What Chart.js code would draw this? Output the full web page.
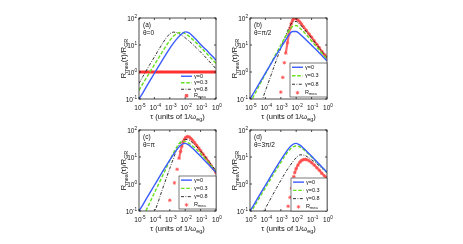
<!DOCTYPE html>
<html>
<head>
<meta charset="utf-8">
<script src="https://cdn.jsdelivr.net/npm/chart.js@4"></script>
<style>
  body { margin: 0; background: #fff; width: 463px; height: 244px; overflow: hidden; position: relative; }
  canvas { position: absolute; }
</style>
</head>
<body>
<canvas id="ca" width="135" height="125" style="left:95px;top:0px"></canvas>
<canvas id="cb" width="135" height="125" style="left:206px;top:0px"></canvas>
<canvas id="cc" width="135" height="125" style="left:95px;top:112px"></canvas>
<canvas id="cd" width="135" height="125" style="left:206px;top:112px"></canvas>
<script>
// tau grid (quarter decades)
const tau = [1e-5, 1.78e-5, 3.16e-5, 5.62e-5, 1e-4, 1.78e-4, 3.16e-4, 5.62e-4, 1e-3, 1.78e-3,
  3.16e-3, 5.62e-3, 1e-2, 1.78e-2, 3.16e-2, 5.62e-2, 0.1, 0.178, 0.316, 0.562, 1];

const xTicks = [1e-5, 1e-4, 1e-3, 1e-2, 1e-1, 1];
const xTickExp = ["-5", "-4", "-3", "-2", "-1", "0"];
const yTicks = [0.1, 1, 10, 100];
const yTickExp = ["-1", "0", "1", "2"];
const legendLabels = ["γ=0", "γ=0.3", "γ=0.8"];
const panelTags = ["(a)", "(b)", "(c)", "(d)"];
const thetaLabels = ["θ=0", "θ=π/2", "θ=π", "θ=3π/2"];

// (a) theta = 0
const aG0 = [0.1, 0.17, 0.3, 0.52, 0.9, 1.55, 2.65, 4.5, 7.5, 12, 18, 25, 30.5, 28, 21, 15, 10.5, 7.6, 5.5, 3.9, 2.8];
const aG03 = [0.21, 0.37, 0.63, 1.1, 1.86, 3.16, 5.4, 9.1, 14.8, 21.4, 27.5, 29.5, 26.3, 20.9, 15.8, 11.5, 8.3, 5.9, 4.2, 2.95, 2.1];
const aG08 = [0.38, 0.68, 1.2, 2.1, 3.6, 6.3, 10.7, 17.8, 26, 30, 28, 23.5, 18.5, 14, 10.5, 7.6, 5.5, 3.9, 2.7, 1.9, 1.3];
const aMea = [1, 1, 1, 1, 1, 1, 1, 1, 1, 1, 1, 1, 1, 1, 1, 1, 1, 1, 1, 1, 1];

// (b) theta = pi/2
const bG0 = [0.1, 0.174, 0.3, 0.52, 0.91, 1.58, 2.75, 4.7, 7.9, 13.2, 22.4, 31.6, 31.6, 25, 18.6, 13.5, 9.8, 7.1, 5.1, 3.6, 2.6];
const bG03 = [0.071, 0.132, 0.245, 0.457, 0.85, 1.58, 2.95, 5.5, 10, 18.2, 31.6, 47.9, 52.5, 41.7, 30.2, 20.9, 14.1, 9.5, 6.5, 4.4, 2.95];
const bG08 = [0.005, 0.0126, 0.0316, 0.079, 0.2, 0.5, 1.26, 3.16, 7.6, 17.8, 39.8, 69, 74, 57.5, 39.8, 26.9, 17.8, 11.7, 7.8, 5.1, 3.4];
const bMeaTauSparse = [1e-3, 1.35e-3, 1.7e-3];
const bMeaSparse = [0.18, 0.63, 2.2];
const bMeaTau = [2.1e-3, 2.7e-3, 3.3e-3, 4e-3, 4.8e-3, 5.8e-3, 7e-3, 8.5e-3, 1e-2, 1.3e-2, 1.7e-2, 2.2e-2,
  3e-2, 4.5e-2, 7e-2, 0.1, 0.15, 0.22, 0.32, 0.46, 0.68, 1];
const bMea = [5, 12, 24, 42, 62, 82, 95, 97, 93, 84, 72, 60, 47, 35, 25, 19.5, 14, 10.5, 7.8, 5.8, 4.4, 3.5];

// (c) theta = pi
const cG0 = [0.1, 0.17, 0.3, 0.52, 0.9, 1.55, 2.7, 4.6, 7.7, 12.8, 20.5, 28.5, 32, 27.5, 20.5, 14.8, 10.6, 7.6, 5.4, 3.8, 2.7];
const cG03 = [0.03, 0.059, 0.117, 0.234, 0.47, 0.93, 1.86, 3.7, 7.4, 14.5, 26, 37, 38, 32, 25, 18.5, 13.2, 9.3, 6.4, 4.3, 2.9];
const cG08 = [0.0016, 0.0045, 0.012, 0.032, 0.085, 0.22, 0.59, 1.5, 3.8, 9.3, 21.4, 36, 45, 42, 33, 24, 16.6, 11.2, 7.4, 4.8, 3.1];
const cMeaTauSparse = [1e-3, 2e-3, 3e-3];
const cMeaSparse = [0.25, 1.1, 3.5];
const cMeaTau = [4e-3, 5e-3, 6e-3, 7.5e-3, 9e-3, 1.1e-2, 1.4e-2, 1.8e-2, 2.3e-2, 3e-2, 4e-2, 5.5e-2, 7.5e-2,
  0.1, 0.15, 0.22, 0.32, 0.46, 0.68, 1];
const cMea = [9, 16, 25, 36, 46, 53, 57, 55, 49, 42, 34, 27, 21.5, 17, 12.5, 9.2, 6.8, 5, 3.6, 2.6];

// (d) theta = 3pi/2
const dG0 = [0.1, 0.17, 0.3, 0.52, 0.9, 1.55, 2.7, 4.6, 7.7, 12.8, 20.5, 28.5, 32, 27.5, 20.5, 14.8, 10.6, 7.6, 5.4, 3.8, 2.7];
const dG03 = [0.079, 0.138, 0.24, 0.42, 0.72, 1.26, 2.2, 3.7, 6.3, 10.5, 16.6, 22.9, 25.7, 23.4, 18.6, 13.8, 10, 7.2, 5.2, 3.7, 2.6];
const dG08 = [0.0115, 0.021, 0.038, 0.069, 0.126, 0.23, 0.42, 0.76, 1.35, 2.4, 4.0, 6.3, 9.5, 12, 11.7, 10, 7.9, 6.2, 4.7, 3.5, 2.5];
const dMeaTauSparse = [3e-3, 4e-3, 5e-3, 6e-3, 7e-3];
const dMeaSparse = [0.15, 0.32, 0.7, 1.2, 1.9];
const dMeaTau = [8e-3, 1e-2, 1.3e-2, 1.7e-2, 2.2e-2, 3e-2, 4e-2, 5e-2, 7e-2, 0.1, 0.15, 0.22, 0.32, 0.46, 0.68, 1];
const dMea = [2.6, 3.7, 5.0, 6.4, 7.4, 8.0, 8.1, 7.9, 7.2, 6.2, 5.0, 4.0, 3.2, 2.5, 2.0, 1.7];

const BLUE = "#3a5cff";
const GREEN = "#66e01f";
const BLACK = "#1a1a1a";
const RED = "#ff4d4d";
const FONT = "'Liberation Sans', Arial, sans-serif";

Chart.defaults.font.family = FONT;

const pts = (xs, ys) => xs.map((x, i) => ({ x: x, y: ys[i] }));

// text with sub/superscripts: parts = [[text, mode]] mode: 0 normal, 1 sub, 2 sup
function richText(ctx, parts, x, y, size, align) {
  const small = size * 0.72;
  const fontFor = (m) => (m ? small : size) + "px " + FONT;
  let w = 0;
  parts.forEach(([t, m]) => { ctx.font = fontFor(m); w += ctx.measureText(t).width; });
  let cx = align === "center" ? x - w / 2 : align === "right" ? x - w : x;
  parts.forEach(([t, m]) => {
    ctx.font = fontFor(m);
    const dy = m === 1 ? size * 0.3 : m === 2 ? -size * 0.42 : 0;
    ctx.fillText(t, cx, y + dy);
    cx += ctx.measureText(t).width;
  });
}

const legendStyles = [
  { color: BLUE, width: 1.4, dash: [] },
  { color: GREEN, width: 1.4, dash: [3.5, 1.8] },
  { color: BLACK, width: 0.9, dash: [3, 1.5, 0.8, 1.5] },
];

const decor = {
  id: "decor",
  afterDatasetsDraw(chart, args, opts) {
    const { ctx, chartArea: a } = chart;
    const xs = chart.scales.x, ys = chart.scales.y;
    ctx.save();
    // box + inward ticks
    ctx.strokeStyle = "#222";
    ctx.lineWidth = 0.8;
    ctx.setLineDash([]);
    ctx.strokeRect(a.left, a.top, a.right - a.left, a.bottom - a.top);
    ctx.beginPath();
    xTicks.forEach((v) => {
      const px = xs.getPixelForValue(v);
      ctx.moveTo(px, a.bottom); ctx.lineTo(px, a.bottom - 2);
      ctx.moveTo(px, a.top); ctx.lineTo(px, a.top + 2);
    });
    yTicks.forEach((v) => {
      const py = ys.getPixelForValue(v);
      ctx.moveTo(a.left, py); ctx.lineTo(a.left + 2, py);
      ctx.moveTo(a.right, py); ctx.lineTo(a.right - 2, py);
    });
    ctx.stroke();

    // tick labels (10 with superscript exponent)
    ctx.fillStyle = "#111";
    ctx.textBaseline = "alphabetic";
    xTicks.forEach((v, i) => {
      richText(ctx, [["10", 0], [xTickExp[i], 2]], xs.getPixelForValue(v) + 1, a.bottom + 10.5, 6.5, "center");
    });
    yTicks.forEach((v, i) => {
      richText(ctx, [["10", 0], [yTickExp[i], 2]], a.left - 2, ys.getPixelForValue(v) + 2.5, 6.5, "right");
    });

    // panel tag
    ctx.font = "6.5px " + FONT;
    ctx.fillText(opts.tag, a.left + 4, a.top + 9);
    ctx.fillText(opts.theta, a.left + 4, a.top + 17);

    // legend
    const L = opts.legend;
    const bx = a.left + L.x, by = a.top + L.y;
    if (L.border) {
      ctx.fillStyle = "#fff";
      ctx.fillRect(bx, by, L.w, L.h);
      ctx.strokeStyle = "#222";
      ctx.lineWidth = 0.6;
      ctx.strokeRect(bx, by, L.w, L.h);
    }
    const step = L.h / 4;
    legendLabels.concat(["R"]).forEach((lab, i) => {
      const yy = by + step * (i + 0.5);
      if (i < 3) {
        const s = legendStyles[i];
        ctx.strokeStyle = s.color;
        ctx.lineWidth = s.width;
        ctx.setLineDash(s.dash);
        ctx.beginPath();
        ctx.moveTo(bx + 2, yy);
        ctx.lineTo(bx + 13, yy);
        ctx.stroke();
        ctx.setLineDash([]);
      } else {
        ctx.strokeStyle = RED;
        ctx.fillStyle = RED;
        ctx.lineWidth = 0.8;
        Chart.helpers.drawPoint(ctx, { pointStyle: L.marker, radius: 1.8, rotation: 0, borderWidth: 0.8 }, bx + 7.5, yy);
      }
      ctx.fillStyle = "#111";
      ctx.textBaseline = "middle";
      if (i < 3) {
        ctx.font = "5.5px " + FONT;
        ctx.fillText(lab, bx + 15, yy);
      } else {
        richText(ctx, [["R", 0], ["mea", 1]], bx + 15, yy - 0.5, 5.5, "left");
      }
    });

    // axis titles
    ctx.fillStyle = "#111";
    ctx.textBaseline = "alphabetic";
    richText(ctx, [["τ (units of 1/ω", 0], ["eg", 1], [")", 0]],
      (a.left + a.right) / 2, a.bottom + 19.5, 7.5, "center");
    ctx.save();
    ctx.translate(a.left - 13.5, (a.top + a.bottom) / 2);
    ctx.rotate(-Math.PI / 2);
    richText(ctx, [["R", 0], ["mea", 1], ["(τ)/R", 0], ["GR", 1]], 0, 0, 7.5, "center");
    ctx.restore();
    ctx.restore();
  },
};

function lineSet(data, color, width, dash) {
  return {
    data: data, showLine: true, borderColor: color, borderWidth: width, borderDash: dash,
    pointRadius: 0, cubicInterpolationMode: "monotone", fill: false,
  };
}

function makePanel(id, idx, g0, g03, g08, meaSets, legend) {
  const datasets = [
    lineSet(pts(tau, g0), BLUE, 1.4, []),
    lineSet(pts(tau, g03), GREEN, 1.4, [3.5, 1.8]),
    lineSet(pts(tau, g08), BLACK, 0.9, [3, 1.5, 0.8, 1.5]),
  ].concat(meaSets);

  new Chart(document.getElementById(id), {
    type: "scatter",
    data: { datasets: datasets },
    options: {
      responsive: false,
      animation: false,
      layout: { padding: { top: 18, right: 14, left: 0, bottom: 0 } },
      plugins: {
        legend: { display: false },
        tooltip: { enabled: false },
        decor: { tag: panelTags[idx], theta: thetaLabels[idx], legend: legend },
      },
      scales: {
        x: {
          type: "logarithmic", min: 1e-5, max: 1,
          afterFit: (s) => { s.height = 26; },
          ticks: { display: false },
          grid: { display: false },
          border: { display: false },
        },
        y: {
          type: "logarithmic", min: 0.1, max: 100,
          afterFit: (s) => { s.width = 44; },
          ticks: { display: false },
          grid: { display: false },
          border: { display: false },
        },
      },
    },
    plugins: [decor],
  });
}

function meaSparse(xs, ys) {
  return {
    data: pts(xs, ys), showLine: false, pointStyle: "star", pointRadius: 1.8,
    borderColor: RED, borderWidth: 0.8, backgroundColor: RED,
  };
}
function meaDense(xs, ys) {
  return {
    data: pts(xs, ys), showLine: true, borderColor: "rgba(255,80,80,0.85)", borderWidth: 2.2,
    cubicInterpolationMode: "monotone", pointStyle: "star", pointRadius: 1.8,
    pointBorderColor: RED, pointBorderWidth: 0.8,
  };
}

makePanel("ca", 0, aG0, aG03, aG08, [
  { data: pts(tau, aMea), showLine: true, borderColor: "#ff3030", borderWidth: 3, pointRadius: 0 },
], { x: 40, y: 55, w: 37, h: 26, border: false, marker: "rect" });

makePanel("cb", 1, bG0, bG03, bG08, [meaSparse(bMeaTauSparse, bMeaSparse), meaDense(bMeaTau, bMea)],
  { x: 40, y: 45, w: 37, h: 34, border: true, marker: "star" });

makePanel("cc", 2, cG0, cG03, cG08, [meaSparse(cMeaTauSparse, cMeaSparse), meaDense(cMeaTau, cMea)],
  { x: 40, y: 46, w: 37, h: 33, border: true, marker: "star" });

makePanel("cd", 3, dG0, dG03, dG08, [meaSparse(dMeaTauSparse, dMeaSparse), meaDense(dMeaTau, dMea)],
  { x: 41, y: 48, w: 36, h: 33, border: true, marker: "star" });
</script>
</body>
</html>
